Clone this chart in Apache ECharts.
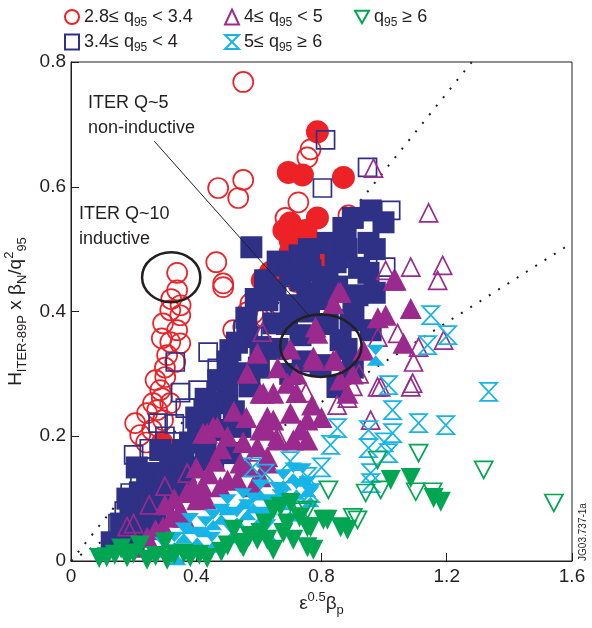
<!DOCTYPE html>
<html>
<head>
<meta charset="utf-8">
<script src="https://cdn.jsdelivr.net/npm/echarts@6/dist/echarts.min.js"></script>
<style>
  html, body { margin: 0; padding: 0; background: #fff; }
  #main { width: 592px; height: 628px; }
</style>
</head>
<body>
<div id="main"></div>
<script>
// q95 2.8-3.4 (red circles)
var redOpen = [[0.55,0.768],[0.47,0.598],[0.55,0.611],[0.534,0.582],[0.464,0.479],[0.486,0.445],[0.339,0.462],
  [0.765,0.66],[0.755,0.647],[0.726,0.575],[0.685,0.55],[0.886,0.554],[0.722,0.447],[0.317,0.402],[0.349,0.394],
  [0.294,0.381],[0.339,0.37],[0.317,0.351],[0.29,0.357],[0.349,0.349],[0.307,0.33],[0.333,0.319],[0.301,0.295],
  [0.285,0.274],[0.262,0.253],[0.29,0.261],[0.243,0.237],[0.275,0.242],[0.317,0.253],[0.221,0.202],[0.259,0.21],
  [0.294,0.226],[0.205,0.221],[0.518,0.37],[0.563,0.399],[0.582,0.397],[0.486,0.439],[0.339,0.434],[0.6,0.39],
  [0.55,0.375],[0.32,0.42],[0.3,0.31],[0.27,0.29],[0.24,0.19],[0.573,0.413],[0.62,0.39],[0.35,0.41]];
var redFull = [[0.787,0.688],[0.694,0.623],[0.739,0.619],[0.87,0.615],[0.7,0.542],[0.787,0.55],[0.7,0.514],
  [0.78,0.51],[0.81,0.503],[0.662,0.478],[0.63,0.455],[0.78,0.482],[0.7,0.495],[0.637,0.463],[0.611,0.45],
  [0.291,0.189],[0.68,0.53],[0.75,0.53]];

// q95 3.4-4 (navy squares)
var navyOpen = [[0.813,0.675],[0.947,0.631],[0.803,0.598],[1.021,0.562],[0.675,0.455],[1.005,0.471],[0.333,0.319],
  [0.438,0.335],[0.467,0.309],[0.406,0.274],[0.365,0.245],[0.278,0.221],[0.55,0.37],[0.189,0.109],[0.22,0.14],
  [0.2,0.17],[0.25,0.18],[0.3,0.2],[0.33,0.22],[0.17,0.08],[0.15,0.06],[0.26,0.15],[0.35,0.27],[0.58,0.36]];
var navyFull = [[0.576,0.503],[0.957,0.562],[0.998,0.543],[0.877,0.53],[0.95,0.51],[0.845,0.479],[0.95,0.462],
  [0.803,0.455],[0.915,0.426],[0.755,0.429],[0.957,0.37],[0.902,0.397],[0.87,0.534],[0.851,0.487],[0.819,0.455],
  [0.509,0.338],[0.563,0.359],[0.531,0.301],[0.499,0.269],[0.467,0.253],[0.445,0.231],[0.406,0.21],[0.358,0.178],
  [0.317,0.157],[0.278,0.141],[0.262,0.114],[0.851,0.279],[0.733,0.362],[0.861,0.354],[0.797,0.314],[0.893,0.386],
  [0.605,0.343],[0.646,0.381],[0.627,0.418],[0.653,0.434],[0.701,0.41],[0.733,0.45],[0.765,0.466],[0.685,0.474],
  [0.285,0.178],[0.243,0.125],[0.221,0.082],[0.189,0.045],[0.349,0.141],[0.454,0.162],[0.509,0.173],[0.294,0.098],
  [0.243,0.061],[0.541,0.215],[0.166,0.029],[0.2,0.03],[0.19,0.08],[0.22,0.11],[0.25,0.09],[0.3,0.13],[0.33,0.17],
  [0.38,0.19],[0.4,0.23],[0.43,0.26],[0.47,0.29],[0.5,0.32],[0.53,0.35],[0.56,0.39],[0.59,0.42],[0.62,0.45],
  [0.66,0.48],[0.7,0.46],[0.73,0.49],[0.76,0.5],[0.82,0.51],[0.88,0.5],[0.92,0.47],[0.97,0.5],[0.9,0.55],
  [0.97,0.43],[0.85,0.44],[0.8,0.42],[0.76,0.4],[0.69,0.38],[0.66,0.34],[0.6,0.31],[0.57,0.28],[0.52,0.24],
  [0.48,0.21],[0.43,0.18],[0.39,0.15],[0.36,0.12],[0.74,0.32],[0.7,0.3],[0.82,0.38],[0.88,0.34],[0.9,0.31],
  [0.13,0.03],[0.16,0.06],[0.18,0.1],[0.21,0.15],[0.27,0.06]];

// q95 4-5 (purple triangles)
var purpleFull = [[0.21,0.022],[0.243,0.038],[0.27,0.05],[0.294,0.055],[0.32,0.07],[0.349,0.082],[0.33,0.1],
  [0.37,0.11],[0.403,0.098],[0.42,0.12],[0.4,0.15],[0.44,0.14],[0.477,0.119],[0.46,0.16],[0.5,0.13],[0.531,0.13],
  [0.48,0.18],[0.422,0.205],[0.435,0.205],[0.454,0.215],[0.467,0.215],[0.5,0.2],[0.541,0.157],[0.563,0.151],
  [0.582,0.119],[0.605,0.135],[0.595,0.183],[0.627,0.157],[0.627,0.167],[0.627,0.21],[0.55,0.19],[0.52,0.24],
  [0.56,0.23],[0.605,0.21],[0.646,0.226],[0.659,0.194],[0.71,0.194],[0.733,0.21],[0.755,0.194],[0.755,0.226],
  [0.701,0.237],[0.627,0.231],[0.605,0.269],[0.614,0.269],[0.646,0.269],[0.691,0.285],[0.563,0.301],[0.595,0.333],
  [0.66,0.31],[0.72,0.27],[0.77,0.25],[0.8,0.23],[0.787,0.365],[0.774,0.322],[0.838,0.322],[0.845,0.322],
  [0.774,0.327],[0.781,0.375],[0.838,0.413],[0.861,0.431],[0.854,0.431],[0.883,0.269],[0.934,0.338],[0.98,0.39],
  [1.005,0.394],[1.037,0.45],[1.03,0.45],[1.085,0.405],[1.062,0.349],[0.86,0.29],[0.9,0.3],[0.7,0.34],[0.72,0.3],
  [0.3,0.09],[0.36,0.07],[0.39,0.12],[0.43,0.1]];
var purpleOpen = [[0.966,0.63],[1.142,0.558],[1.005,0.466],[1.085,0.471],[1.187,0.474],[1.171,0.45],[1.043,0.365],
  [1.094,0.319],[1.19,0.354],[0.98,0.359],[0.979,0.279],[1.091,0.285],[0.957,0.226],[0.883,0.261],[1.085,0.279],
  [0.989,0.279],[0.611,0.367],[0.179,0.055],[0.371,0.141],[0.75,0.27],[0.85,0.25],[0.9,0.28],[0.92,0.3],
  [0.66,0.2],[0.55,0.19],[0.6,0.175],[0.25,0.09],[0.2,0.06],[0.3,0.12],[1.11,0.343]];

// q95 5-6 (cyan hourglasses)
var cyanFull = [[0.294,0.022],[0.33,0.03],[0.36,0.045],[0.403,0.038],[0.43,0.055],[0.454,0.066],[0.48,0.075],
  [0.509,0.045],[0.53,0.07],[0.563,0.082],[0.55,0.1],[0.582,0.093],[0.605,0.114],[0.627,0.05],[0.63,0.09],
  [0.66,0.11],[0.669,0.098],[0.678,0.13],[0.71,0.141],[0.72,0.115],[0.755,0.119],[0.765,0.103],[0.74,0.14],
  [0.973,0.33],[0.38,0.06],[0.5,0.09],[0.6,0.07],[0.7,0.08],[0.45,0.03],[0.34,0.01]];
var cyanOpen = [[1.149,0.394],[1.203,0.362],[1.139,0.346],[1.334,0.271],[1.014,0.282],[1.027,0.242],[1.11,0.221],
  [1.197,0.218],[1.027,0.205],[0.95,0.21],[0.851,0.213],[0.829,0.186],[0.95,0.181],[1.014,0.173],[0.957,0.141],
  [0.755,0.135],[0.765,0.109],[0.957,0.125],[0.8,0.15],[0.7,0.16],[0.62,0.14],[0.58,0.15],[1.0,0.19]];

// q95 >= 6 (green down triangles)
var greenFull = [[0.09,0.005],[0.114,0.006],[0.14,0.01],[0.179,0.006],[0.2,0.012],[0.243,0.002],[0.27,0.008],
  [0.307,0.002],[0.33,0.01],[0.36,0.012],[0.381,0.006],[0.41,0.01],[0.435,0.005],[0.48,0.015],[0.5,0.025],
  [0.541,0.029],[0.55,0.022],[0.57,0.04],[0.595,0.034],[0.605,0.045],[0.627,0.034],[0.646,0.018],[0.646,0.082],
  [0.669,0.087],[0.678,0.045],[0.69,0.06],[0.701,0.093],[0.71,0.034],[0.73,0.07],[0.755,0.022],[0.755,0.054],
  [0.765,0.054],[0.774,0.018],[0.806,0.066],[0.819,0.066],[0.861,0.054],[0.883,0.05],[1.021,0.13],[1.085,0.133],
  [1.158,0.101],[1.181,0.095],[0.16,0.02],[0.22,0.025],[0.3,0.03],[0.52,0.05],[0.62,0.06]];
var greenOpen = [[1.11,0.173],[1.318,0.146],[1.542,0.093],[0.979,0.162],[0.822,0.114],[0.941,0.109],[0.989,0.114],
  [1.101,0.111],[1.155,0.111],[0.915,0.066],[0.755,0.082],[0.739,0.079],[0.9,0.07]];

// dotted guide lines, ellipses (cx, cy, rx, ry), pointer line
var guideSteep = [[0, 0], [1.28, 0.8]];
var guideShallow = [[0, 0], [1.6, 0.51]];
var ellipses = [[0.32, 0.455, 0.093, 0.04], [0.798, 0.345, 0.13, 0.05]];
var pointer = [[0.266, 0.673], [0.763, 0.392]];

var legendLabels = {
  r: '2.8\u2264 q{sub|95} < 3.4',
  n: '3.4\u2264 q{sub|95} < 4',
  p: '4\u2264 q{sub|95} < 5',
  c: '5\u2264 q{sub|95} \u2265 6',
  g: 'q{sub|95} \u2265 6'
};

var INK = '#231f20';
var FONT = 'Liberation Sans';
var HOUR = 'path://M0,0L10,0L0,10L10,10Z';
var DOWN = 'path://M0,0L10,0L5,9Z';

function openSeries(name, data, sym, size, color) {
  return {
    name: name, type: 'scatter', data: data, symbol: sym, symbolSize: size,
    itemStyle: { color: 'rgba(255,255,255,0)', borderColor: color, borderWidth: 1.7, opacity: 1 },
    emphasis: { disabled: true }
  };
}
function fullSeries(name, data, sym, size, color) {
  return {
    name: name, type: 'scatter', data: data, symbol: sym, symbolSize: size,
    itemStyle: { color: color, opacity: 1 },
    emphasis: { disabled: true }
  };
}

var legendText = {
  fontSize: 18, color: INK, fontFamily: FONT, lineHeight: 24,
  rich: { sub: { fontSize: 12, fontFamily: FONT, color: INK, verticalAlign: 'bottom', lineHeight: 12 } }
};
function legendBox(names, left) {
  return {
    data: names, left: left, top: 0, orient: 'vertical', itemGap: 1,
    itemWidth: 14, itemHeight: 15, textStyle: legendText,
    formatter: function (n) { return legendLabels[n]; },
    selectedMode: false
  };
}

var nameStyle = {
  fontSize: 19, color: INK, fontFamily: FONT, lineHeight: 26,
  rich: {
    sup: { fontSize: 13, fontFamily: FONT, color: INK, verticalAlign: 'top', lineHeight: 13 },
    sub: { fontSize: 13, fontFamily: FONT, color: INK, verticalAlign: 'bottom', lineHeight: 13 }
  }
};

var chart = echarts.init(document.getElementById('main'));

var option = {
  animation: false,
  backgroundColor: '#fff',
  legend: [legendBox(['r', 'n'], 59), legendBox(['p', 'c'], 219), legendBox(['g'], 349)],
  grid: { left: 71, right: 20, top: 62, bottom: 67, outerBoundsMode: 'none', containLabel: false,
          show: true, borderColor: INK, borderWidth: 1 },
  xAxis: {
    type: 'value', min: 0, max: 1.6, interval: 0.4,
    axisLine: { onZero: false, lineStyle: { color: INK, width: 1 } },
    axisTick: { inside: true, length: 8, lineStyle: { color: INK } },
    axisLabel: { fontSize: 19, color: INK, fontFamily: FONT, margin: 6 },
    splitLine: { show: false },
    name: '\u03b5{sup|0.5}\u03b2{sub|p}', nameLocation: 'middle', nameGap: 29,
    nameTextStyle: nameStyle
  },
  yAxis: {
    type: 'value', min: 0, max: 0.8, interval: 0.2,
    axisLine: { onZero: false, lineStyle: { color: INK, width: 1 } },
    axisTick: { inside: true, length: 8, lineStyle: { color: INK } },
    axisLabel: { fontSize: 19, color: INK, fontFamily: FONT, margin: 5 },
    splitLine: { show: false },
    name: 'H{sub|ITER-89P} x \u03b2{sub|N}/q{sup|2}{sub|95}', nameLocation: 'middle', nameGap: 25, nameRotate: 90,
    nameTextStyle: nameStyle
  },
  series: [
    { type: 'line', data: guideSteep, symbol: 'none', silent: true, z: 1,
      lineStyle: { color: INK, width: 2, type: [2, 9] } },
    { type: 'line', data: guideShallow, symbol: 'none', silent: true, z: 1,
      lineStyle: { color: INK, width: 2, type: [2, 9] } },
    openSeries('r', redOpen, 'circle', 20, '#ec2227'),
    fullSeries('rF', redFull, 'circle', 23, '#ec2227'),
    openSeries('n', navyOpen, 'rect', 18, '#2e3185'),
    fullSeries('nF', navyFull, 'rect', 22, '#2e3185'),
    fullSeries('pF', purpleFull, 'triangle', [22, 21], '#9a2a8e'),
    openSeries('p', purpleOpen, 'triangle', [18, 18], '#9a2a8e'),
    fullSeries('cF', cyanFull, HOUR, [18, 21], '#17b4e8'),
    openSeries('c', cyanOpen, HOUR, [17, 18], '#17b4e8'),
    fullSeries('gF', greenFull, DOWN, [20, 20], '#00a651'),
    openSeries('g', greenOpen, DOWN, [18, 17], '#00a651'),
    { type: 'line', data: pointer, symbol: 'none', silent: true, z: 5,
      lineStyle: { color: INK, width: 1 } },
    { type: 'custom', data: ellipses, silent: true, z: 6,
      renderItem: function (params, api) {
        var c = api.coord([api.value(0), api.value(1)]);
        var s = api.size([api.value(2), api.value(3)]);
        return { type: 'ellipse', shape: { cx: c[0], cy: c[1], rx: s[0], ry: s[1] },
                 style: { fill: 'none', stroke: INK, lineWidth: 2.5 } };
      } }
  ],
  graphic: [
    { type: 'text', left: 88, top: 94, style: { text: 'ITER Q~5', fontSize: 18, fontFamily: FONT, fill: INK } },
    { type: 'text', left: 88, top: 119, style: { text: 'non-inductive', fontSize: 18, fontFamily: FONT, fill: INK } },
    { type: 'text', left: 79, top: 205, style: { text: 'ITER Q~10', fontSize: 18, fontFamily: FONT, fill: INK } },
    { type: 'text', left: 79, top: 230, style: { text: 'inductive', fontSize: 18, fontFamily: FONT, fill: INK } },
    { type: 'text', x: 583, y: 532, rotation: Math.PI / 2,
      style: { text: 'JG03.737-1a', fontSize: 10, fontFamily: FONT, fill: INK, align: 'center', verticalAlign: 'middle' } }
  ]
};

chart.setOption(option);
</script>
</body>
</html>
